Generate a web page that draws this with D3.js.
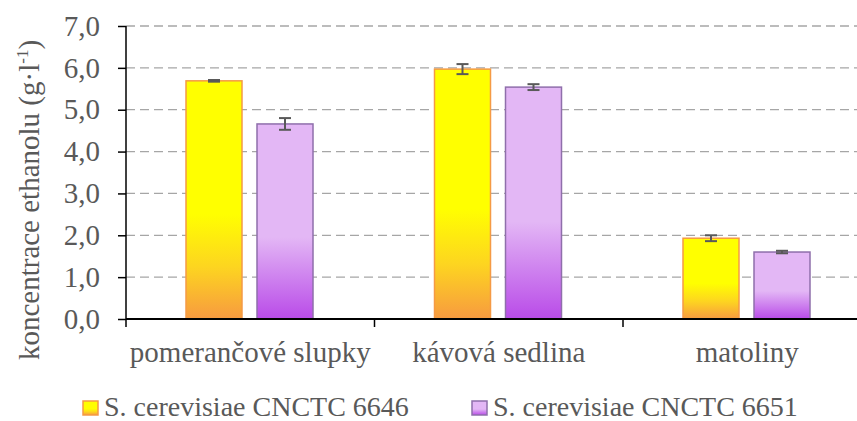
<!DOCTYPE html>
<html>
<head>
<meta charset="utf-8">
<script src="https://cdn.jsdelivr.net/npm/d3@7"></script>
<style>
  body { margin: 0; background: #fff; }
  svg { display: block; }
</style>
</head>
<body>
<svg id="viz"></svg>
<script>
var width = 857;
var height = 421;
var serif = "Liberation Serif";

// data
var categories = ["pomerančové slupky", "kávová sedlina", "matoliny"];
var seriesNames = ["S. cerevisiae CNCTC 6646", "S. cerevisiae CNCTC 6651"];
var values6646 = [5.69, 5.97, 1.93];
var values6651 = [4.66, 5.54, 1.60];
var err6646 = [0.02, 0.12, 0.07];
var err6651 = [0.14, 0.07, 0.03];
var yTicks = [0, 1, 2, 3, 4, 5, 6, 7];

var svg = d3.select("#viz")
    .attr("width", width)
    .attr("height", height);

var defs = svg.append("defs");

var gradY = defs.append("linearGradient").attr("id", "gradY")
    .attr("x1", 0).attr("y1", 0).attr("x2", 0).attr("y2", 1);
gradY.append("stop").attr("offset", "0%").attr("stop-color", "#FFFF00");
gradY.append("stop").attr("offset", "56%").attr("stop-color", "#FFFF00");
gradY.append("stop").attr("offset", "78%").attr("stop-color", "#FDD520");
gradY.append("stop").attr("offset", "100%").attr("stop-color", "#F79A40");

var gradP = defs.append("linearGradient").attr("id", "gradP")
    .attr("x1", 0).attr("y1", 0).attr("x2", 0).attr("y2", 1);
gradP.append("stop").attr("offset", "0%").attr("stop-color", "#E3B7F5");
gradP.append("stop").attr("offset", "58%").attr("stop-color", "#E3B7F5");
gradP.append("stop").attr("offset", "100%").attr("stop-color", "#B94BE8");

var fills = ["url(#gradY)", "url(#gradP)"];
var strokes = ["#F59A45", "#8F6FAB"];

var plotLeft = 126, plotTop = 26, plotBottom = 319;

var x = d3.scaleBand()
    .domain(categories)
    .range([plotLeft, plotLeft + 3 * 248.5]);

var y = d3.scaleLinear()
    .domain([0, 7])
    .range([plotBottom, plotTop]);

// grid
svg.append("g").selectAll("line")
    .data(yTicks.filter(function (d) { return d > 0; }))
    .enter().append("line")
    .attr("x1", plotLeft).attr("x2", width)
    .attr("y1", function (d) { return y(d); })
    .attr("y2", function (d) { return y(d); })
    .attr("stroke", "#A6A6A6")
    .attr("stroke-width", 1.3)
    .attr("stroke-dasharray", "9,5");

// y axis
var yAxis = svg.append("g")
    .attr("transform", "translate(" + plotLeft + ",0)")
    .call(d3.axisLeft(y).tickValues(yTicks).tickSize(8).tickPadding(18)
        .tickFormat(function (d) { return d3.format(".1f")(d).replace(".", ","); }));
yAxis.select(".domain").attr("stroke", "#000").attr("stroke-width", 1.5)
    .attr("d", "M0," + plotTop + "V" + (plotBottom + 8));
yAxis.selectAll(".tick line").attr("stroke", "#000").attr("stroke-width", 1.5);
yAxis.selectAll(".tick text")
    .attr("fill", "#595959")
    .style("font-family", serif)
    .style("font-size", "29px");

// bars
var groups = [
    { vals: values6646, errs: err6646, offset: 60 },
    { vals: values6651, errs: err6651, offset: 131 }
];
var barW = 56;

groups.forEach(function (g, i) {
    svg.append("g").selectAll("rect")
        .data(categories)
        .enter().append("rect")
        .attr("x", function (d) { return x(d) + g.offset; })
        .attr("y", function (d, j) { return y(g.vals[j]); })
        .attr("width", barW)
        .attr("height", function (d, j) { return plotBottom - y(g.vals[j]); })
        .attr("fill", fills[i])
        .attr("stroke", strokes[i])
        .attr("stroke-width", 1.5);

    var eb = svg.append("g").selectAll("g")
        .data(categories)
        .enter().append("g")
        .attr("stroke", "#595959")
        .attr("stroke-width", 2);
    eb.append("line")
        .attr("x1", function (d) { return x(d) + g.offset + barW / 2; })
        .attr("x2", function (d) { return x(d) + g.offset + barW / 2; })
        .attr("y1", function (d, j) { return y(g.vals[j] + g.errs[j]); })
        .attr("y2", function (d, j) { return y(g.vals[j] - g.errs[j]); });
    [1, -1].forEach(function (s) {
        eb.append("line")
            .attr("x1", function (d) { return x(d) + g.offset + barW / 2 - 6; })
            .attr("x2", function (d) { return x(d) + g.offset + barW / 2 + 6; })
            .attr("y1", function (d, j) { return y(g.vals[j] + s * g.errs[j]); })
            .attr("y2", function (d, j) { return y(g.vals[j] + s * g.errs[j]); });
    });
});

// x axis
var xAxis = svg.append("g")
    .attr("transform", "translate(0," + plotBottom + ")");
xAxis.append("line")
    .attr("x1", plotLeft).attr("x2", width)
    .attr("stroke", "#000").attr("stroke-width", 2);
xAxis.selectAll(".tk")
    .data(categories)
    .enter().append("line")
    .attr("x1", function (d) { return x(d) + x.bandwidth(); })
    .attr("x2", function (d) { return x(d) + x.bandwidth(); })
    .attr("y1", 0).attr("y2", 8)
    .attr("stroke", "#000").attr("stroke-width", 1.5);
xAxis.selectAll("text")
    .data(categories)
    .enter().append("text")
    .attr("x", function (d) { return x(d) + x.bandwidth() / 2; })
    .attr("y", 43)
    .attr("text-anchor", "middle")
    .attr("fill", "#595959")
    .style("font-family", serif)
    .style("font-size", "29px")
    .text(function (d) { return d; });

// y title
var yt = svg.append("text")
    .attr("transform", "translate(39,200) rotate(-90)")
    .attr("text-anchor", "middle")
    .attr("fill", "#595959")
    .style("font-family", serif)
    .style("font-size", "29px");
yt.append("tspan").text("koncentrace ethanolu (g·l");
yt.append("tspan").style("font-size", "17px").attr("dy", -11).text("-1");
yt.append("tspan").attr("dy", 11).text(")");

// legend
var legendX = [83, 472];
var lg = svg.append("g").selectAll("g")
    .data(seriesNames)
    .enter().append("g")
    .attr("transform", function (d, i) { return "translate(" + legendX[i] + ",401)"; });
lg.append("rect")
    .attr("x", 0).attr("y", 0)
    .attr("width", 15).attr("height", 14)
    .attr("fill", function (d, i) { return fills[i]; })
    .attr("stroke", function (d, i) { return strokes[i]; })
    .attr("stroke-width", 1.5);
lg.append("text")
    .attr("x", 21).attr("y", 15)
    .attr("fill", "#595959")
    .style("font-family", serif)
    .style("font-size", "28px")
    .text(function (d) { return d; });
</script>
</body>
</html>
